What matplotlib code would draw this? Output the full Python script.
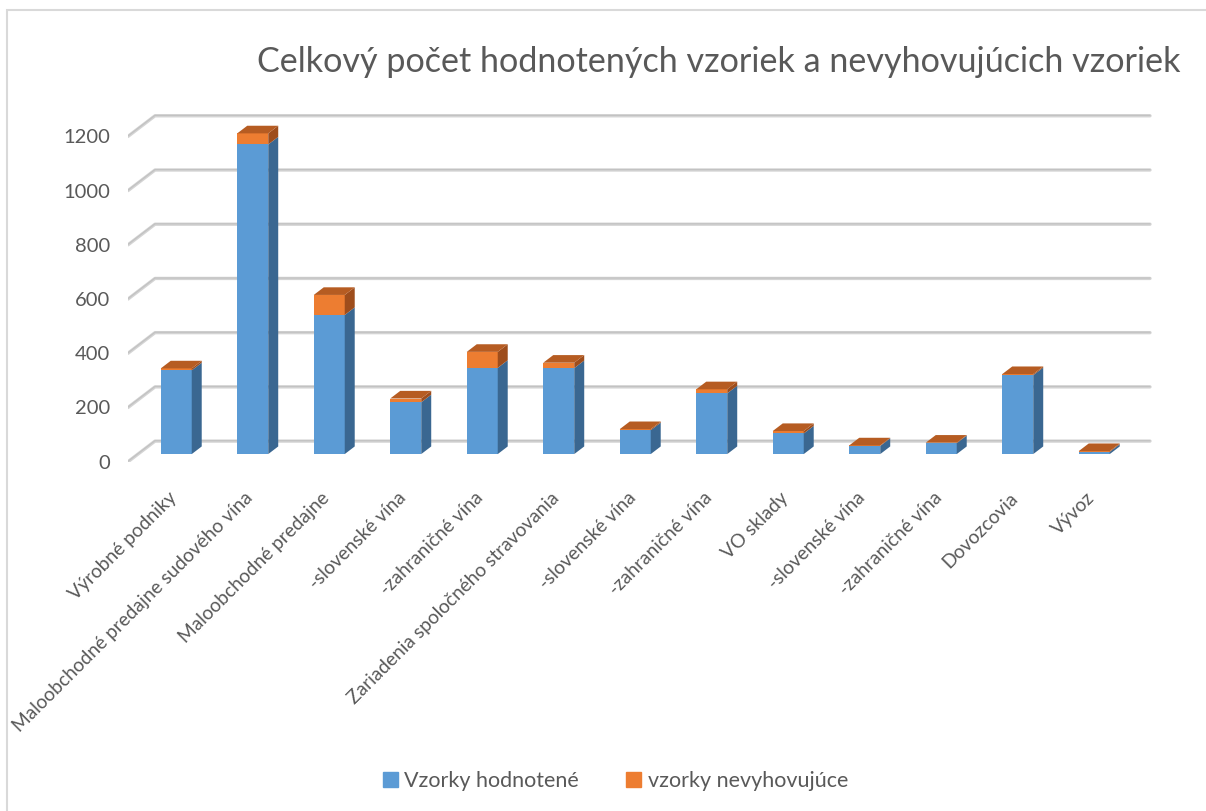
import matplotlib.pyplot as plt
from matplotlib.patches import Patch, Rectangle
import numpy as np

plt.rcParams.update({'font.family': ['Lato', 'DejaVu Sans'],
'text.color': '#595959',
'xtick.color': '#595959',
'ytick.color': '#595959'})

categories = ['Výrobné podniky', 'Maloobchodné predajne sudového vína', 'Maloobchodné predajne',
              '-slovenské vína', '-zahraničné vína', 'Zariadenia spoločného stravovania',
              '-slovenské vína', '-zahraničné vína', 'VO sklady', '-slovenské vína',
              '-zahraničné vína', 'Dovozcovia', 'Vývoz']
tested = np.array([309, 1142, 513, 191, 318, 317, 88, 224, 76, 30, 40, 291, 8])
failed = np.array([7, 41, 74, 14, 59, 20, 4, 15, 9, 2, 2, 4, 3])
series_names = ['Vzorky hodnotené', 'vzorky nevyhovujúce']
y_ticks = [0, 200, 400, 600, 800, 1000, 1200]

# oblique 3D look: depth vector in data units, bar slab between FRONT and BACK
DEPTH_X = 0.353
DEPTH_V = 76.0
FRONT, BACK = 0.37, 0.74
WIDTH = 0.405

blue = ('#5B9BD5', '#3A6791', '#4A80B2')
orange = ('#ED7D31', '#9E4D1C', '#B65C22')
grid_color = '#d4d4d4'

# ----------------------------------------------------------------------------------------------------
def draw_gridlines(ax, x_right):

    for v in y_ticks:
        ax.plot([-0.5, -0.5 + DEPTH_X, x_right], [v, v + DEPTH_V, v + DEPTH_V],
                color = grid_color, lw = 2.4, solid_capstyle = 'round', zorder = 1)
        ax.plot([-0.5, -0.5 + DEPTH_X, x_right], [v + 1.5, v + DEPTH_V + 1.5, v + DEPTH_V + 1.5],
                color = '#c2c2c2', lw = 0.9, solid_capstyle = 'round', zorder = 1)

# ----------------------------------------------------------------------------------------------------
def draw_sides(ax, x, bottom, height, colors, with_top):

    dx = (BACK - FRONT) * DEPTH_X
    dv = (BACK - FRONT) * DEPTH_V
    for xi, b, h in zip(x, bottom, height):
        x1 = xi + WIDTH / 2
        x0 = xi - WIDTH / 2
        ax.fill([x1, x1 + dx, x1 + dx, x1], [b, b + dv, b + h + dv, b + h],
                color = colors[1], lw = 0, zorder = 3)
        if with_top:
            t = b + h
            ax.fill([x0, x1, x1 + dx, x0 + dx], [t, t, t + dv, t + dv],
                    color = colors[2], lw = 0, zorder = 3)

# ----------------------------------------------------------------------------------------------------
def plot_samples():

    fig = plt.figure(figsize = (12.06, 8.11), dpi = 100)
    ax = fig.add_axes([128 / 1206, 1 - 461.7 / 811, 1032 / 1206, 361.7 / 811])

    x_right = -0.5 + 1022 / 76.5
    ax.set_xlim(-0.5, -0.5 + 1032 / 76.5)
    ax.set_ylim(0, 361.7 / 0.2711)

    draw_gridlines(ax, x_right)

    idx = np.arange(len(categories))
    xc = idx + FRONT * DEPTH_X
    base = np.full(len(categories), FRONT * DEPTH_V)

    ax.bar(xc, tested, width = WIDTH, bottom = base, color = blue[0], lw = 0, zorder = 2)
    draw_sides(ax, xc, base, tested, blue, False)
    ax.bar(xc, failed, width = WIDTH, bottom = base + tested, color = orange[0], lw = 0, zorder = 3)
    draw_sides(ax, xc, base + tested, failed, orange, True)

    ax.set_yticks(y_ticks)
    ax.set_yticklabels([str(v) for v in y_ticks], fontsize = 14.5)
    ax.set_xticks(xc - 0.03)
    ax.set_xticklabels(categories, rotation = 45, ha = 'right', va = 'center',
                       rotation_mode = 'anchor', fontsize = 13.8)
    ax.tick_params(axis = 'y', length = 0, pad = 13)
    ax.tick_params(axis = 'x', length = 0, pad = 24)
    for s in ax.spines.values():
        s.set_visible(False)

    fig.text(718.5 / 1206, 1 - 62 / 811, 'Celkový počet hodnotených vzoriek a nevyhovujúcich vzoriek',
             ha = 'center', va = 'center', fontsize = 24.6, color = '#595959')

    handles = [Patch(color = blue[0]), Patch(color = orange[0])]
    fig.legend(handles, series_names, loc = 'center', bbox_to_anchor = (615.5 / 1206, 1 - 781 / 811),
               ncol = 2, frameon = False, fontsize = 15.5, handlelength = 0.7, handleheight = 0.7,
               handletextpad = 0.3, columnspacing = 2.2)

    fig.patches.append(Rectangle((7 / 1206, -0.1), 1.2, 1.1 - 10 / 811, transform = fig.transFigure,
                                 fill = False, edgecolor = '#d9d9d9', lw = 1.5))

    plt.savefig('out.png', dpi = 100)

# ----------------------------------------------------------------------------------------------------
if __name__ == '__main__':

    plot_samples()
